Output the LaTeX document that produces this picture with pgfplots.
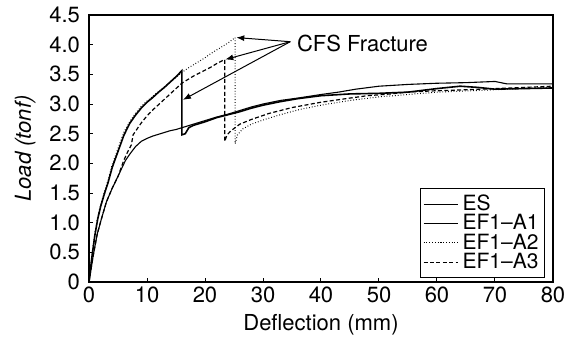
\documentclass[border=0pt]{standalone}
\usepackage{fontspec}
\setmainfont{TeX Gyre Heros}
\usepackage{pgfplots}
\pgfplotsset{compat=1.18}
\usetikzlibrary{arrows.meta}
\begin{document}
\begin{tikzpicture}
\begin{axis}[name=ax,
  scale only axis, width=232pt, height=133.5pt,
  xmin=0, xmax=80, ymin=0, ymax=4.5,
  xtick={0,10,...,80},
  ytick={0,0.5,...,4.5},
  yticklabels={0,0.5,1.0,1.5,2.0,2.5,3.0,3.5,4.0,4.5},
  tick pos=left, tick align=inside, major tick length=2pt,
  axis line style={line width=0.9pt},
  tick style={line width=0.5pt,black},
  /pgf/number format/assume math mode=true,
  tick label style={font=\fontsize{11}{12}\selectfont},
  xticklabel style={yshift=1pt},
  yticklabel style={xshift=-1pt},
  label style={font=\fontsize{11}{12}\selectfont},
  xlabel={Deflection (mm)},
  ylabel={\textit{Load (tonf)}},
  xlabel style={yshift=1pt},
  ylabel style={yshift=0pt},
  legend style={at={(0.983,0.015)}, anchor=south east, draw=black, line width=0.6pt,
    font=\fontsize{10.5}{10.5}\selectfont, inner sep=1pt, row sep=-3.5pt,
    cells={anchor=west}},
  legend cell align=left,
  clip=false,
]
\addplot[black, line width=0.55pt] coordinates {
(0,0) (0.7,0.43) (1.4,0.8) (2.1,1.05) (3,1.35) (4,1.58) (5,1.78) (5.8,1.95) (6.3,2.05)
(7,2.15) (8,2.28) (9,2.37) (10,2.42) (11,2.46) (12,2.49) (13,2.52) (14,2.55) (15,2.57)
(16,2.6) (18,2.66) (20,2.72) (22,2.78) (24,2.83) (26,2.89) (28,2.95) (30,3.0) (33,3.06)
(36,3.1) (40,3.16) (43,3.2) (46,3.25) (50,3.3) (55,3.33) (60,3.35) (65,3.36) (70,3.38)
(72,3.34) (76,3.34) (80,3.34)};
\addlegendentry{ES}
\addplot[black, line width=0.8pt] coordinates {
(0,0) (0.5,0.42) (1,0.78) (1.5,1.06) (2,1.27) (2.6,1.47) (3.3,1.68) (4,1.93) (5,2.2)
(6,2.47) (7,2.67) (8,2.81) (9,2.93) (10,3.03) (11,3.11) (12,3.2) (13,3.28) (14,3.37)
(15,3.46) (16,3.56) (16,2.48) (16.6,2.5) (17.2,2.6) (18,2.64) (20,2.7) (22,2.77) (24,2.82)
(26,2.87) (28,2.93) (30,2.98) (33,3.04) (36,3.09) (40,3.14) (45,3.17) (50,3.18) (55,3.2)
(60,3.26) (64,3.3) (67,3.28) (70,3.25) (75,3.26) (80,3.27)};
\addlegendentry{EF1--A1}
\addplot[black, line width=0.5pt, dash pattern=on 0.4pt off 1pt] coordinates {
(0,0) (0.5,0.45) (1,0.82) (1.5,1.1) (2,1.3) (2.6,1.5) (3.3,1.72) (4,1.98) (5,2.25)
(6,2.52) (7,2.7) (8,2.84) (9,2.96) (10,3.05) (11,3.13) (12,3.21) (13,3.29) (14,3.37)
(15,3.45) (16,3.53) (17,3.6) (18,3.66) (19,3.72) (20,3.78) (21,3.85) (22,3.91) (23,3.97)
(24,4.03) (25.2,4.12) (25.2,2.33) (25.6,2.48) (26.5,2.58) (28,2.66) (30,2.73) (33,2.82)
(36,2.9) (40,2.98) (45,3.06) (50,3.12) (55,3.16) (60,3.2) (65,3.22) (70,3.24) (75,3.26)
(80,3.28)};
\addlegendentry{EF1--A2}
\addplot[black, line width=0.6pt, dash pattern=on 2pt off 1.2pt] coordinates {
(0,0) (0.7,0.43) (1.4,0.8) (2.1,1.05) (3,1.35) (4,1.58) (5,1.78) (6,2.05) (6.7,2.2)
(7.3,2.31) (7.6,2.48) (9,2.68) (10,2.8) (11,2.9) (12,2.99) (13,3.08) (14,3.17) (15,3.26)
(16,3.35) (17,3.41) (18,3.47) (19,3.52) (20,3.57) (21,3.62) (22,3.68) (23.4,3.75)
(23.4,2.37) (23.8,2.48) (24.5,2.55) (26,2.66) (28,2.74) (31,2.84) (35,2.94) (40,3.03)
(45,3.1) (48,3.14) (52,3.17) (55,3.2) (59,3.22) (65,3.24) (70,3.26) (75,3.28) (80,3.3)};
\addlegendentry{EF1--A3}
\draw[-{Latex[length=4pt,width=3pt]}, line width=0.5pt] (axis cs:34.7,4.05) -- (axis cs:25.4,4.12);
\draw[-{Latex[length=4pt,width=3pt]}, line width=0.5pt] (axis cs:34.7,4.05) -- (axis cs:23.5,3.75);
\draw[-{Latex[length=4pt,width=3pt]}, line width=0.5pt] (axis cs:34.7,4.05) -- (axis cs:16.2,3.07);
\node[anchor=west, inner sep=0pt, font=\fontsize{11}{12}\selectfont] at (axis cs:35.8,4.02) {CFS Fracture};
\end{axis}
\pgfresetboundingbox
\path[use as bounding box] ([xshift=-44.5pt,yshift=-30.5pt]ax.south west) rectangle ([xshift=9.5pt,yshift=7.5pt]ax.north east);
\end{tikzpicture}
\end{document}
